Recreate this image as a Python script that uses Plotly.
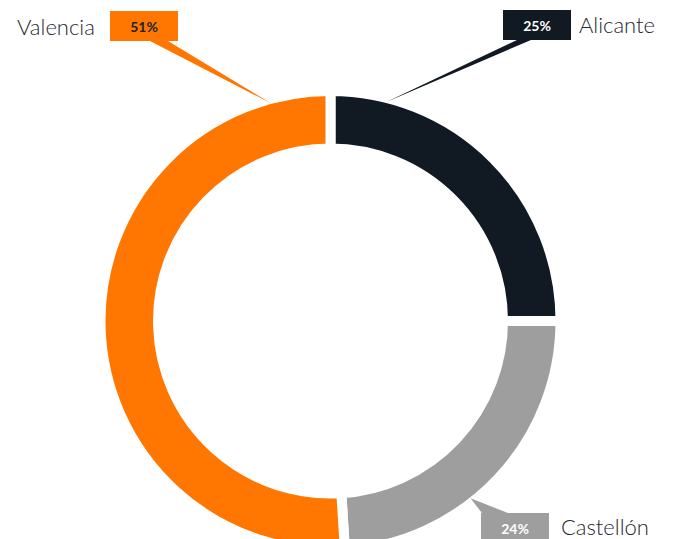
import math
import plotly.graph_objects as go

labels = ["Alicante", "Castellón", "Valencia"]
values = [25, 24, 51]
pct_text = ["25%", "24%", "51%"]
colors = ["#111a22", "#9e9e9e", "#ff7700"]
pct_font_colors = ["#ffffff", "#ffffff", "#222222"]

W, H = 673, 560
CX, CY, R = 330.5, 321.0, 230.0
LINE_W = 10
HOLE = 0.75

def px(x):
    return x / W

def py(y):
    return 1 - y / H

fig = go.Figure()
fig.add_trace(go.Pie(
    labels=labels, values=values, sort=False, direction="clockwise", rotation=0,
    hole=HOLE, marker=dict(colors=colors, line=dict(color="#ffffff", width=LINE_W)),
    textinfo="none", hoverinfo="label+percent", showlegend=False,
    domain=dict(x=[px(CX - R), px(CX + R)], y=[py(CY + R), py(CY - R)]),
))

# callout layout: (tip angle deg clockwise from top, box centre, box base segment, label anchor)
callouts = {
    "Alicante": dict(tip=14.3, box=(536.5, 25), base=[(517, 40), (531, 40)],
                     label=(577, 25, "left")),
    "Castellón": dict(tip=141.7, box=(515, 528), base=[(482, 513), (508, 513)],
                      label=(559, 526, "left")),
    "Valencia": dict(tip=-15.4, box=(144, 26), base=[(150, 41), (168, 41)],
                     label=(97, 26, "right")),
}
rtip = R - LINE_W / 2 + 1

shapes = []
annotations = []
for lab, txt, col, fcol in zip(labels, pct_text, colors, pct_font_colors):
    c = callouts[lab]
    a = math.radians(c["tip"])
    tx, ty = CX + rtip * math.sin(a), CY - rtip * math.cos(a)
    (x1, y1), (x2, y2) = c["base"]
    path = f"M {px(tx)} {py(ty)} L {px(x1)} {py(y1)} L {px(x2)} {py(y2)} Z"
    shapes.append(dict(type="path", xref="paper", yref="paper", path=path,
                       fillcolor=col, line=dict(width=0), layer="above"))
    bx, by = c["box"]
    annotations.append(dict(x=px(bx), y=py(by), xref="paper", yref="paper",
                            text=f"<b>{txt}</b>", showarrow=False, width=68, height=30,
                            bgcolor=col, borderpad=0, borderwidth=0,
                            xanchor="center", yanchor="middle",
                            font=dict(family="Lato, sans-serif", size=14, color=fcol)))
    lx, ly, anc = c["label"]
    annotations.append(dict(x=px(lx), y=py(ly), xref="paper", yref="paper",
                            text=lab, showarrow=False, xanchor=anc, yanchor="middle",
                            font=dict(family="Lato, sans-serif", size=22, weight=300,
                                      color="#1f2630")))

fig.update_layout(
    width=W, height=H, margin=dict(l=0, r=0, t=0, b=0),
    paper_bgcolor="#ffffff", plot_bgcolor="#ffffff",
    shapes=shapes, annotations=annotations,
)

fig.write_html("out.html", config={"displayModeBar": False},
               post_script="document.body.style.margin='0';document.body.style.overflow='hidden';")
